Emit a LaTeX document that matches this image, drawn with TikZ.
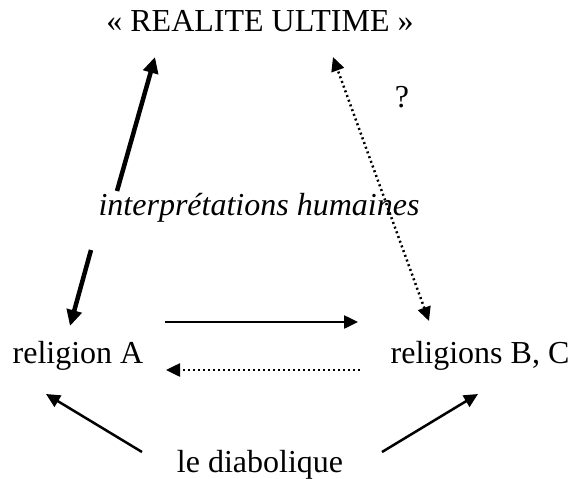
\documentclass[tikz,border=0pt]{standalone}
\usepackage{fontspec}
\setmainfont{Liberation Serif}
\usetikzlibrary{arrows.meta}
\begin{document}
\begin{tikzpicture}[x=1pt,y=-1pt,
  lbl/.style={inner sep=0pt,anchor=base,font=\fontsize{32}{38}\selectfont},
  thick arr/.style={line width=4.5pt,-{Triangle[length=16pt,width=15pt]}},
  thin arr/.style={line width=2.5pt,-{Triangle[length=14pt,width=13pt]}},
  dot arr/.style={line width=2.5pt,dash pattern=on 2pt off 3pt,-{Triangle[length=14pt,width=13pt]}}]
\useasboundingbox (0,0) rectangle (571,479);
\node[lbl] (real) at (260,31) {« REALITE ULTIME »};
\node[lbl] (q) at (402,107) {?};
\node[lbl,font=\fontsize{32}{38}\selectfont\itshape] (interp) at (259,215) {interprétations humaines};
\node[lbl] (relA) at (78,363) {religion A};
\node[lbl] (relB) at (480,363) {religions B, C};
\node[lbl] (diab) at (260,472) {le diabolique};
\coordinate (t1s) at (117,191);
\coordinate (t1e) at (155,57);
\coordinate (t2s) at (91,250);
\coordinate (t2e) at (70,326);
\coordinate (d1s) at (333,57);
\coordinate (d1e) at (429,321);
\coordinate (h1s) at (165,322);
\coordinate (h1e) at (358,322);
\coordinate (h2s) at (360,370);
\coordinate (h2e) at (166,370);
\coordinate (a1s) at (142,452);
\coordinate (a1e) at (46,394);
\coordinate (a2s) at (382,452);
\coordinate (a2e) at (478,394);
\draw[thick arr] (t1s) -- (t1e);
\draw[thick arr] (t2s) -- (t2e);
\draw[dot arr,{Triangle[length=14pt,width=13pt]}-{Triangle[length=14pt,width=13pt]}] (d1e) -- (d1s);
\draw[thin arr] (h1s) -- (h1e);
\draw[dot arr] (h2s) -- (h2e);
\draw[thin arr] (a1s) -- (a1e);
\draw[thin arr] (a2s) -- (a2e);
\end{tikzpicture}
\end{document}
